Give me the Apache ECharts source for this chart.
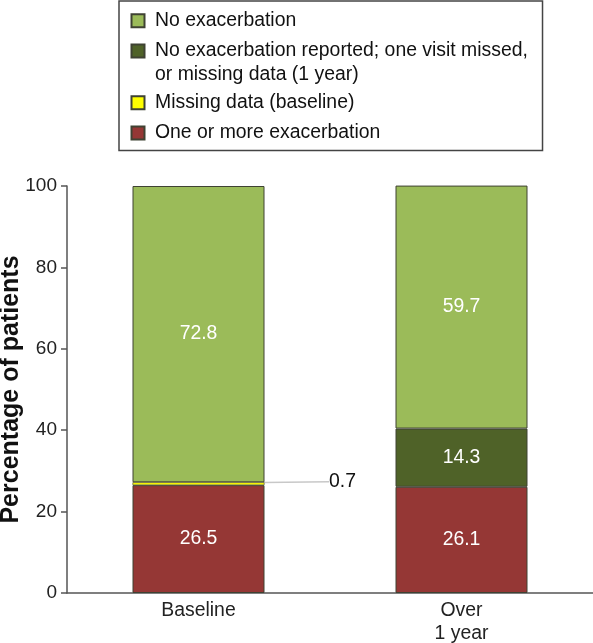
<!DOCTYPE html>
<html>
<head>
<meta charset="utf-8">
<script src="https://cdn.jsdelivr.net/npm/echarts@6/dist/echarts.min.js"></script>
<style>
html, body { margin: 0; padding: 0; background: #fff; }
#chart { width: 593px; height: 643px; }
</style>
</head>
<body>
<div id="chart"></div>
<script>
// ---- data ----
const categories = ['Baseline', 'Over\n1 year'];
const seriesNames = [
  'One or more exacerbation',
  'Missing data (baseline)',
  'No exacerbation reported; one visit missed,\nor missing data (1 year)',
  'No exacerbation'
];
const oneOrMore = [26.5, 26.1];
const missingBaseline = [0.7, null];
const missedVisit = [null, 14.3];
const noExacerbation = [72.8, 59.7];
const yTicks = { min: 0, max: 100, interval: 20 };
const legendOrder = [seriesNames[3], seriesNames[2], seriesNames[1], seriesNames[0]];

const FONT = '"Liberation Sans", Arial, Helvetica, sans-serif';
const colors = ['#953735', '#FFFF00', '#4F6228', '#9BBB59'];
const borderCol = '#3f4233';

const chart = echarts.init(document.getElementById('chart'), null, { renderer: 'canvas' });

function valueFormatter(p) { return p.value == null ? '' : p.value.toFixed(1); }

function barSeries(name, data, color, extra) {
  return Object.assign({
    name: name,
    type: 'bar',
    stack: 'total',
    data: data,
    barWidth: 132,
    itemStyle: { color: color, borderColor: borderCol, borderWidth: 1 },
    label: {
      show: true,
      position: 'inside',
      color: '#fff',
      fontSize: 19.4,
      fontFamily: FONT,
      formatter: valueFormatter
    }
  }, extra || {});
}

const option = {
  animation: false,
  backgroundColor: '#fff',
  textStyle: { fontFamily: FONT },
  legend: {
    orient: 'vertical',
    left: 119,
    top: 1,
    itemWidth: 13,
    itemHeight: 13,
    itemGap: -17.7,
    icon: 'rect',
    borderColor: '#444',
    borderWidth: 1.5,
    padding: [7.7, 14.6, 2.9, 11.5],
    selectedMode: false,
    // two-line entry gets a leading blank line so its first line sits beside the icon
    formatter: function (name) { return name.indexOf('\n') >= 0 ? '\n' + name : name; },
    textStyle: { fontSize: 19.4, lineHeight: 24, color: '#111', fontFamily: FONT, padding: [0, 0, 0, 5.5] },
    data: [
      { name: legendOrder[0], textStyle: { padding: [0, 0, 0, 5.5] } },
      { name: legendOrder[1], textStyle: { padding: [0, 0, 0, 5.5] } },
      { name: legendOrder[2], textStyle: { padding: [21.4, 0, 21.4, 5.5] } },
      { name: legendOrder[3], textStyle: { padding: [2.6, 0, 2.6, 5.5] } }
    ]
  },
  grid: { left: 67, right: 0, top: 186, bottom: 50, containLabel: false, outerBoundsMode: 'none' },
  xAxis: {
    type: 'category',
    data: categories,
    axisLine: { show: true, lineStyle: { color: '#555', width: 1.5 } },
    axisTick: { show: false },
    axisLabel: { color: '#222', fontSize: 19.4, lineHeight: 23, margin: 6, fontFamily: FONT }
  },
  yAxis: {
    type: 'value',
    min: yTicks.min,
    max: yTicks.max,
    interval: yTicks.interval,
    name: 'Percentage of patients',
    nameLocation: 'middle',
    nameGap: 43,
    nameMoveOverlap: false,
    nameTextStyle: { fontSize: 25, fontWeight: 'bold', color: '#111', fontFamily: FONT },
    axisLine: { show: true, lineStyle: { color: '#555', width: 1.5 } },
    axisTick: { show: true, length: 6, lineStyle: { color: '#555', width: 1.5 } },
    axisLabel: { color: '#222', fontSize: 19, margin: 10, fontFamily: FONT },
    splitLine: { show: false }
  },
  series: [
    barSeries(seriesNames[0], oneOrMore, colors[0]),
    barSeries(seriesNames[1], missingBaseline, colors[1], {
      itemStyle: { color: colors[1], borderColor: borderCol, borderWidth: 0.6 },
      label: {
        show: true,
        position: 'inside',
        color: '#111',
        fontSize: 19.4,
        fontFamily: FONT,
        formatter: valueFormatter
      },
      labelLayout: { dx: 144, dy: -2 },
      labelLine: { show: true, lineStyle: { color: '#c8c8c8', width: 1.5 } }
    }),
    barSeries(seriesNames[2], missedVisit, colors[2]),
    barSeries(seriesNames[3], noExacerbation, colors[3])
  ]
};

chart.setOption(option);
</script>
</body>
</html>
